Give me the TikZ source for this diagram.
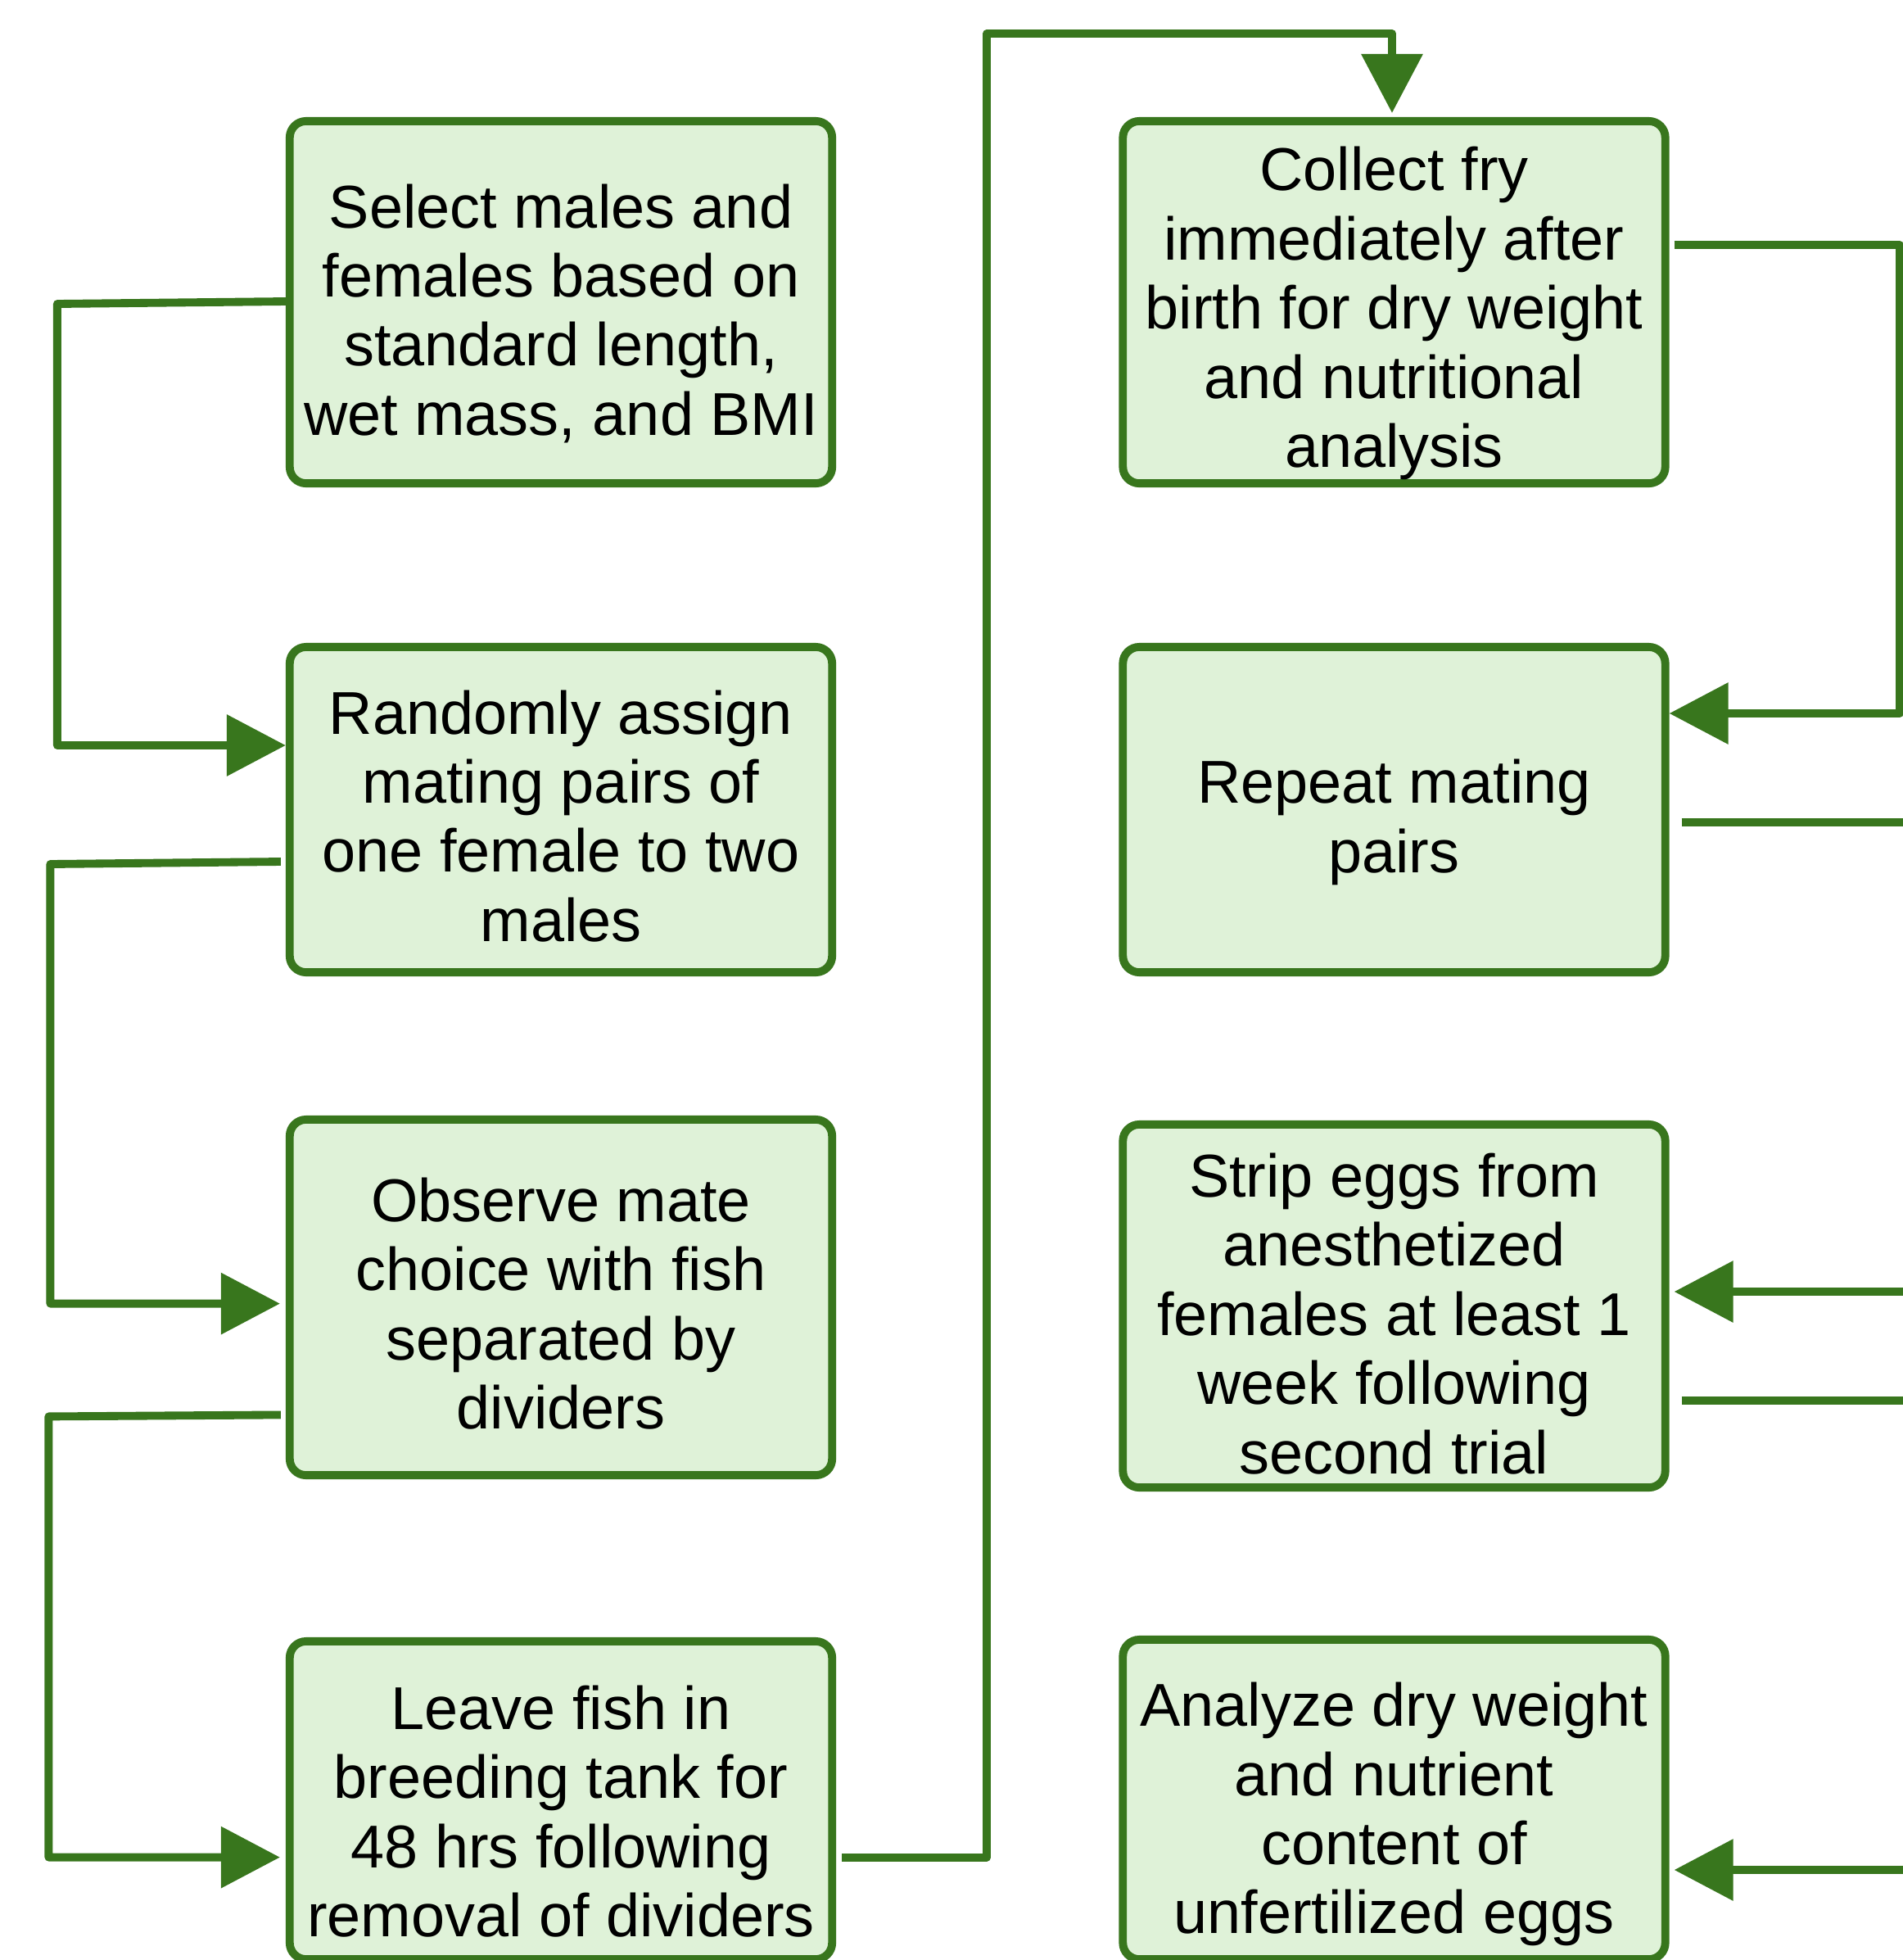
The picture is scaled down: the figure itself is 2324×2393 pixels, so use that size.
\documentclass[tikz,border=0pt]{standalone}
\usepackage{fontspec}
\setmainfont{Liberation Sans}
\usetikzlibrary{arrows.meta,calc}
\definecolor{dkgreen}{HTML}{38761D}
\definecolor{ltgreen}{HTML}{DFF2D8}
\newcommand{\boxstrut}[1]{\rule{0pt}{#1}}
\begin{document}
\begin{tikzpicture}[x=0.01cm,y=-0.01cm,
  box/.style={draw=dkgreen, fill=ltgreen, line width=2.8pt, rounded corners=0.2cm,
    minimum width=6.62cm, align=center, inner sep=0pt,
    font=\fontsize{21pt}{24pt}\selectfont},
  conn/.style={draw=dkgreen, line width=2.8pt, line join=round},
  arr/.style={conn, -{Triangle[length=20.5pt,width=20.8pt]}}]
\clip (0,0) rectangle (2324,2393);
\fill[white] (0,0) rectangle (2324,2393);

\node[box, minimum height=4.42cm] (b1) at (685,369)
  {\boxstrut{23pt}Select males and\\females based on\\standard length,\\wet mass, and BMI};
\node[box, minimum height=3.97cm] (b2) at (685,988.5)
  {\boxstrut{19.6pt}Randomly assign\\mating pairs of\\one female to two\\males};
\node[box, minimum height=4.34cm] (b3) at (685,1584)
  {\boxstrut{19.6pt}Observe mate\\choice with fish\\separated by\\dividers};
\node[box, minimum height=3.88cm] (b4) at (685,2198)
  {\boxstrut{23pt}Leave fish in\\breeding tank for\\48 hrs following\\removal of dividers};

\node[box, minimum height=4.42cm] (b5) at (1702.5,369)
  {\boxstrut{23pt}Collect fry\\immediately after\\birth for dry weight\\and nutritional\\analysis};
\node[box, minimum height=3.97cm] (b6) at (1702.5,988.5)
  {\boxstrut{24pt}Repeat mating\\pairs};
\node[box, minimum height=4.43cm] (b7) at (1702.5,1594.5)
  {\boxstrut{20.5pt}Strip eggs from\\anesthetized\\females at least 1\\week following\\second trial};
\node[box, minimum height=3.90cm] (b8) at (1702.5,2197)
  {\boxstrut{25.5pt}Analyze dry weight\\and nutrient\\content of\\unfertilized eggs};

\draw[arr] ($(b1.west)+(0,-1)$) -- ++(-279,3) |- ($(b2.west)+(0,-78.5)$);
\draw[arr] ($(b2.west)+(-6,63.5)$) -- ++(-281.5,3) |- ($(b3.west)+(-7,7.6)$);
\draw[arr] ($(b3.west)+(-6,143.4)$) -- ++(-283.5,2) |- ($(b4.west)+(-7,69.6)$);
\draw[arr] ($(b4.east)+(7,69.6)$) -- ++(177,0) |- ($(b5.north)+(-2.5,-102)$)
  -- ($(b5.north)+(-2.5,-5)$);
\draw[arr] ($(b5.east)+(6,-70)$) -- ++(275,0) |- ($(b6.east)+(0,-117.5)$);
\draw[arr] ($(b6.east)+(15,15.5)$) -- ++(330,0) |- ($(b7.east)+(6,-17.5)$);
\draw[arr] ($(b7.east)+(15,115.5)$) -- ++(330,0) |- ($(b8.east)+(6,86)$);
\end{tikzpicture}
\end{document}
